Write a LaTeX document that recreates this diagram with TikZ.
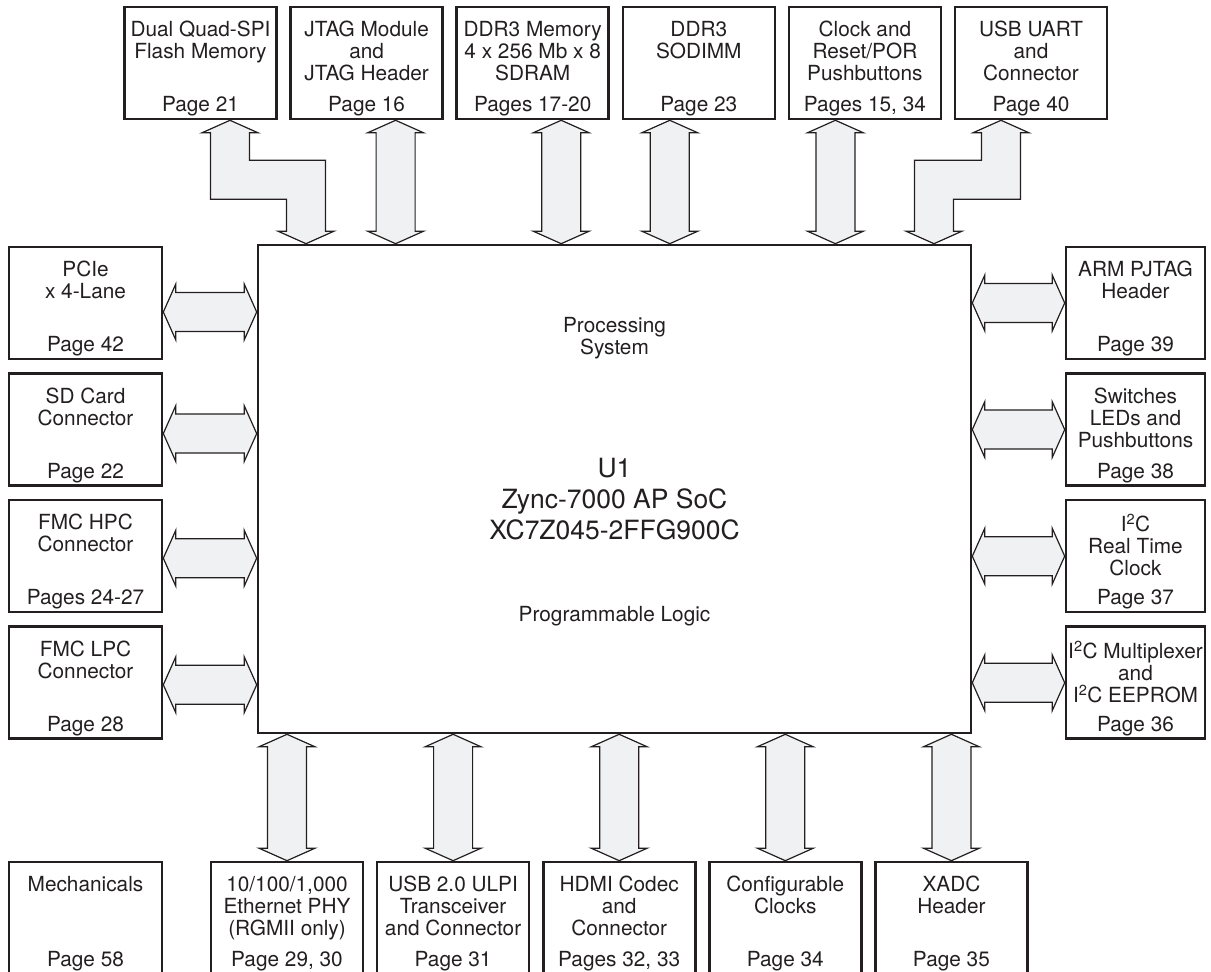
\documentclass[tikz,border=0pt]{standalone}
\usepackage{fontspec}
\setmainfont{TeX Gyre Heros}
\usetikzlibrary{positioning, calc, backgrounds}
\definecolor{inkgray}{HTML}{231F20}
\definecolor{busfill}{HTML}{F0F1F3}
\tikzset{
  busarrow/.style={draw=inkgray, fill=busfill, line width=1.2pt, line join=miter}
}
% fat double arrows between two named tips
\newcommand{\fatv}[2]{%
  \draw[busarrow] (#1) -- ++(28,-12.5) -- ++(-8.5,0) -- ($(#2)+(19.5,12.5)$) -- ++(8.5,0) -- (#2)
    -- ++(-28,12.5) -- ++(8.5,0) -- ($(#1)+(-19.5,-12.5)$) -- ++(-8.5,0) -- cycle;}
\newcommand{\fath}[2]{%
  \draw[busarrow] (#1) -- ++(12.5,28) -- ++(0,-8.5) -- ($(#2)+(-12.5,19.5)$) -- ++(0,8.5) -- (#2)
    -- ++(-12.5,-28) -- ++(0,8.5) -- ($(#1)+(12.5,-19.5)$) -- ++(0,-8.5) -- cycle;}
% title and page lines of a box
\newcommand{\boxtext}[3]{%
  \node[ttl, anchor=north] (#1-t) at ([yshift=-15pt]#1.north) {#2};
  \node[ttl] (#1-p) at ([yshift=-106pt]#1.north) {#3};}

\begin{document}
\begin{tikzpicture}[
    x=1pt, y=1pt,
    unit/.style={rectangle, draw=inkgray, line width=2.6pt, minimum width=152pt, minimum height=112pt, inner sep=0pt},
    side/.style={unit, minimum width=139pt},
    ttl/.style={font=\fontsize{20.8}{22}\selectfont, text=inkgray, align=center, anchor=base, inner sep=0pt}
]
    \useasboundingbox (0,0) rectangle (1211,972);

    % Top row
    \node[unit] (qspi) at (200.5,909) {};
    \node[unit, right=11.5pt of qspi] (jtag) {};
    \node[unit, right=11.5pt of jtag] (ddr) {};
    \node[unit, right=11.5pt of ddr] (sodimm) {};
    \node[unit, right=11.5pt of sodimm] (clk) {};
    \node[unit, right=11.5pt of clk] (uart) {};

    % SoC
    \node[unit, minimum width=713pt, minimum height=488pt] (soc) at (614.5,483) {};

    % Left column
    \node[unit, minimum width=153pt] (pcie) at (85.5,669) {};
    \node[unit, minimum width=153pt, below=12pt of pcie] (sd) {};
    \node[unit, minimum width=153pt, below=12pt of sd] (hpc) {};
    \node[unit, minimum width=153pt, below=12pt of hpc] (lpc) {};

    % Right column
    \node[side] (pjtag) at (1135.5,669) {};
    \node[side, below=12pt of pjtag] (sw) {};
    \node[side, below=12pt of sw] (rtc) {};
    \node[side, below=12pt of rtc] (eeprom) {};

    % Bottom row
    \node[unit, minimum width=153pt] (mech) at (85.5,54) {};
    \node[unit] (eth) at (287,54) {};
    \node[unit, right=11.5pt of eth] (ulpi) {};
    \node[unit, right=11.5pt of ulpi] (hdmi) {};
    \node[unit, right=11.5pt of hdmi] (cfgclk) {};
    \node[unit, right=11.5pt of cfgclk] (xadc) {};

    % Texts
    \boxtext{qspi}{Dual Quad-SPI\\Flash Memory}{Page 21}
    \boxtext{jtag}{JTAG Module\\and\\JTAG Header}{Page 16}
    \boxtext{ddr}{DDR3 Memory\\4 x 256 Mb x 8\\SDRAM}{Pages 17-20}
    \boxtext{sodimm}{DDR3\\SODIMM}{Page 23}
    \boxtext{clk}{Clock and\\Reset/POR\\Pushbuttons}{Pages 15, 34}
    \boxtext{uart}{USB UART\\and\\Connector}{Page 40}
    \boxtext{pcie}{PCIe\\x 4-Lane}{Page 42}
    \boxtext{sd}{SD Card\\Connector}{Page 22}
    \boxtext{hpc}{FMC HPC\\Connector}{Pages 24-27}
    \boxtext{lpc}{FMC LPC\\Connector}{Page 28}
    \boxtext{pjtag}{ARM PJTAG\\Header}{Page 39}
    \boxtext{sw}{Switches\\LEDs and\\Pushbuttons}{Page 38}
    \boxtext{rtc}{I\textsuperscript{2}C\\Real Time\\Clock}{Page 37}
    \boxtext{eeprom}{I\textsuperscript{2}C Multiplexer\\and\\I\textsuperscript{2}C EEPROM}{Page 36}
    \boxtext{mech}{Mechanicals}{Page 58}
    \boxtext{eth}{10/100/1,000\\Ethernet PHY\\(RGMII only)}{Page 29, 30}
    \boxtext{ulpi}{USB 2.0 ULPI\\Transceiver\\and Connector}{Page 31}
    \boxtext{hdmi}{HDMI Codec\\and\\Connector}{Pages 32, 33}
    \boxtext{cfgclk}{Configurable\\Clocks}{Page 34}
    \boxtext{xadc}{XADC\\Header}{Page 35}

    \node[ttl, anchor=north] (ps) at ([yshift=-73pt]soc.north) {Processing\\System};
    \node[ttl, anchor=north, font=\fontsize{26.5}{31}\selectfont] (u1) at ([yshift=31pt]soc.center) {U1\\Zync-7000 AP SoC\\XC7Z045-2FFG900C};
    \node[ttl] (pl) at ([yshift=113pt]soc.south) {Programmable Logic};

    % Arrow ends
    \coordinate (qspi-a) at ([xshift=29.5pt]qspi.south);
    \coordinate (qspi-k) at ([yshift=-59.5pt]qspi-a);
    \coordinate (qspi-b) at ($(qspi-a |- soc.north)+(76,0)$);
    \coordinate (uart-a) at ([xshift=-30pt]uart.south);
    \coordinate (uart-k) at ([yshift=-59.5pt]uart-a);
    \coordinate (uart-b) at ($(uart-a |- soc.north)+(-67,0)$);
    \coordinate (jtag-a) at ([xshift=29pt]jtag.south);
    \coordinate (jtag-b) at (jtag-a |- soc.north);
    \coordinate (ddr-a) at ([xshift=28.5pt]ddr.south);
    \coordinate (ddr-b) at (ddr-a |- soc.north);
    \coordinate (sodimm-a) at ([xshift=-29pt]sodimm.south);
    \coordinate (sodimm-b) at (sodimm-a |- soc.north);
    \coordinate (clk-a) at ([xshift=-29.5pt]clk.south);
    \coordinate (clk-b) at (clk-a |- soc.north);
    \coordinate (pcie-a) at ([yshift=-9pt]pcie.east);
    \coordinate (pcie-b) at (pcie-a -| soc.west);
    \coordinate (sd-a) at ([yshift=-4pt]sd.east);
    \coordinate (sd-b) at (sd-a -| soc.west);
    \coordinate (hpc-a) at ([yshift=-2pt]hpc.east);
    \coordinate (hpc-b) at (hpc-a -| soc.west);
    \coordinate (lpc-a) at ([yshift=-2pt]lpc.east);
    \coordinate (lpc-b) at (lpc-a -| soc.west);
    \coordinate (pjtag-b) at (pjtag.west);
    \coordinate (pjtag-a) at (pjtag-b -| soc.east);
    \coordinate (sw-b) at (sw.west);
    \coordinate (sw-a) at (sw-b -| soc.east);
    \coordinate (rtc-b) at (rtc.west);
    \coordinate (rtc-a) at (rtc-b -| soc.east);
    \coordinate (eeprom-b) at (eeprom.west);
    \coordinate (eeprom-a) at (eeprom-b -| soc.east);
    \coordinate (eth-b) at (eth.north);
    \coordinate (eth-a) at (eth-b |- soc.south);
    \coordinate (ulpi-b) at (ulpi.north);
    \coordinate (ulpi-a) at (ulpi-b |- soc.south);
    \coordinate (hdmi-b) at (hdmi.north);
    \coordinate (hdmi-a) at (hdmi-b |- soc.south);
    \coordinate (cfgclk-b) at (cfgclk.north);
    \coordinate (cfgclk-a) at (cfgclk-b |- soc.south);
    \coordinate (xadc-b) at (xadc.north);
    \coordinate (xadc-a) at (xadc-b |- soc.south);

    % Buses
    \begin{scope}[on background layer]
        \draw[busarrow] (qspi-a) -- ++(28,-12.5) -- ++(-8.5,0)
            |- ($(qspi-b |- qspi-k)+(19.5,19.5)$) -- ($(qspi-b)+(19.5,12.5)$) -- ++(8.5,0) -- (qspi-b)
            -- ++(-28,12.5) -- ++(8.5,0) |- ($(qspi-a |- qspi-k)+(-19.5,-19.5)$)
            -- ($(qspi-a)+(-19.5,-12.5)$) -- ++(-8.5,0) -- cycle;
        \draw[busarrow] (uart-a) -- ++(28,-12.5) -- ++(-8.5,0)
            |- ($(uart-b |- uart-k)+(19.5,-19.5)$) -- ($(uart-b)+(19.5,12.5)$) -- ++(8.5,0) -- (uart-b)
            -- ++(-28,12.5) -- ++(8.5,0) |- ($(uart-a |- uart-k)+(-19.5,19.5)$)
            -- ($(uart-a)+(-19.5,-12.5)$) -- ++(-8.5,0) -- cycle;
        \fatv{jtag-a}{jtag-b}
        \fatv{ddr-a}{ddr-b}
        \fatv{sodimm-a}{sodimm-b}
        \fatv{clk-a}{clk-b}
        \fatv{eth-a}{eth-b}
        \fatv{ulpi-a}{ulpi-b}
        \fatv{hdmi-a}{hdmi-b}
        \fatv{cfgclk-a}{cfgclk-b}
        \fatv{xadc-a}{xadc-b}
        \fath{pcie-a}{pcie-b}
        \fath{sd-a}{sd-b}
        \fath{hpc-a}{hpc-b}
        \fath{lpc-a}{lpc-b}
        \fath{pjtag-a}{pjtag-b}
        \fath{sw-a}{sw-b}
        \fath{rtc-a}{rtc-b}
        \fath{eeprom-a}{eeprom-b}
    \end{scope}
\end{tikzpicture}
\end{document}
